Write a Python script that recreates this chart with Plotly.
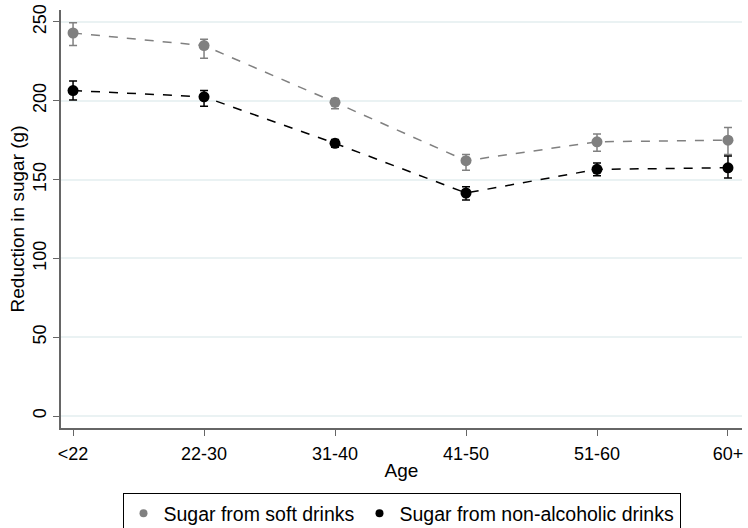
import plotly.graph_objects as go

ages = ["<22", "22-30", "31-40", "41-50", "51-60", "60+"]
soft = [243, 235, 199, 162, 174, 175]
soft_hi = [249.5, 239, 201.5, 166, 179, 183]
soft_lo = [235, 227, 195, 156, 168, 166]
nonalc = [206.5, 202.5, 173, 141.5, 156.5, 157.5]
nonalc_hi = [212.5, 206.5, 175.5, 145.5, 160.5, 165]
nonalc_lo = [200.5, 196.5, 170.5, 137, 152.5, 151]

xi = list(range(len(ages)))
fig = go.Figure()

def add(series, hi, lo, color, name):
    fig.add_trace(go.Scatter(
        x=xi, y=series, mode="lines+markers", showlegend=False,
        line=dict(color=color, width=1.5, dash="dash"),
        marker=dict(color=color, size=11),
        error_y=dict(type="data", symmetric=False,
                     array=[h - v for h, v in zip(hi, series)],
                     arrayminus=[v - l for l, v in zip(lo, series)],
                     color=color, thickness=1.5, width=4),
    ))
    fig.add_trace(go.Scatter(x=[None], y=[None], mode="markers", name=name,
                             marker=dict(color=color, size=8)))

add(soft, soft_hi, soft_lo, "#808080", "Sugar from soft drinks")
add(nonalc, nonalc_hi, nonalc_lo, "#000000", "Sugar from non-alcoholic drinks")

fig.update_layout(
    width=748, height=548,
    margin=dict(l=61, r=6, t=10, b=120),
    paper_bgcolor="white", plot_bgcolor="white",
    font=dict(family="Liberation Sans, Arial, sans-serif", size=18, color="#000"),
    showlegend=True,
    legend=dict(orientation="h", x=0.5, xanchor="center", y=-0.1555, yanchor="top",
                bordercolor="#000", borderwidth=1, font=dict(size=19.5),
                itemwidth=30),
)
fig.update_xaxes(
    tickvals=xi, ticktext=ages, range=[-0.092, 5.107], automargin=False,
    tickfont=dict(size=18), ticklabelstandoff=3,
    showline=True, linecolor="#666", linewidth=1.5,
    ticks="outside", ticklen=6, tickcolor="#666",
    showgrid=False, zeroline=False,
    title=dict(text="Age", standoff=0, font=dict(size=19)),
)
fig.update_yaxes(
    range=[-7.6, 257.6], tickvals=[0, 50, 100, 150, 200, 250], automargin=False,
    tickangle=-90, tickfont=dict(size=18),
    showline=True, linecolor="#666", linewidth=1.5,
    ticks="outside", ticklen=6, tickcolor="#666",
    showgrid=True, gridcolor="#eaf2f3", gridwidth=1.5, zeroline=False,
    title=dict(text="Reduction in sugar (g)", standoff=0, font=dict(size=19)),
)
fig.write_html(
    "out.html",
    config={"displayModeBar": False},
    post_script="document.body.style.margin='0';document.body.style.overflow='hidden';",
)
